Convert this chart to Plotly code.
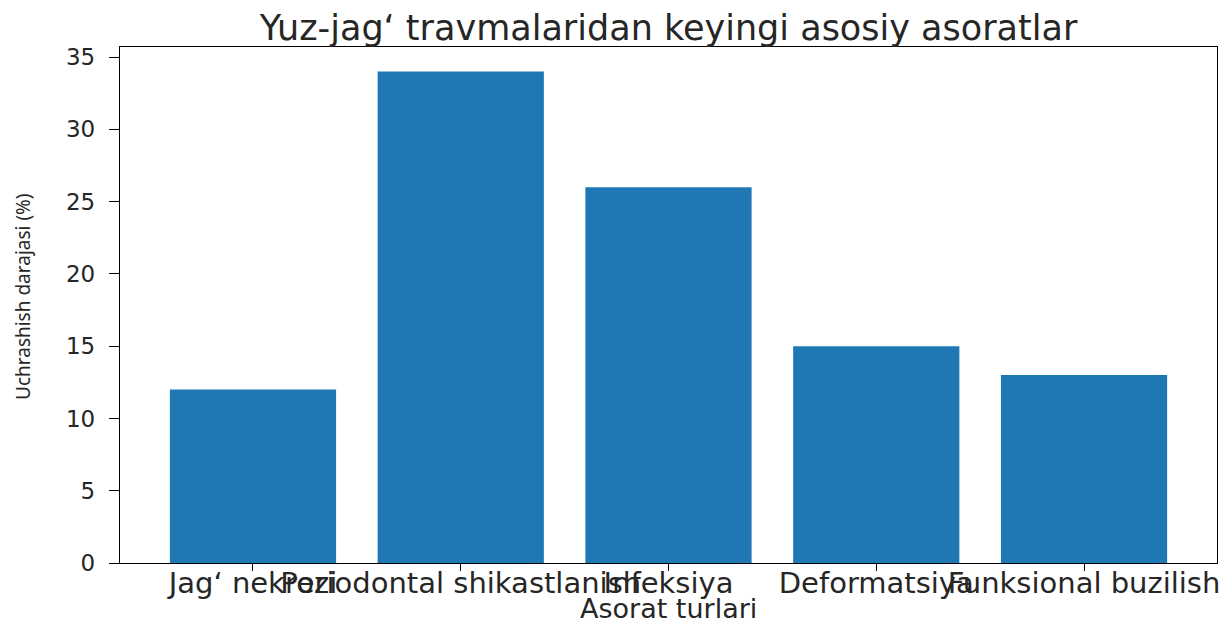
import plotly.graph_objects as go

categories = ["Jag‘ nekrozi", "Periodontal shikastlanish", "Infeksiya", "Deformatsiya", "Funksional buzilish"]
values = [12, 34, 26, 15, 13]
y_ticks = [0, 5, 10, 15, 20, 25, 30, 35]

title_text = "Yuz-jag‘ travmalaridan keyingi asosiy asoratlar"
x_title = "Asorat turlari"
y_title = "Uchrashish darajasi (%)"

W, H = 1232, 621
L, R, T, B = 120, 1217, 47, 563  # plot area in pixels

fig = go.Figure(
    go.Bar(
        x=list(range(len(categories))),
        y=values,
        marker=dict(color="#1f77b4", line=dict(width=0)),
        width=0.8,
    )
)

axis_common = dict(
    showline=True, linecolor="black", linewidth=1.3, mirror=True,
    ticks="outside", tickwidth=1.3, tickcolor="black",
    showgrid=False, zeroline=False, automargin=False,
)

txt = "#262626"

fig.update_layout(
    width=W, height=H,
    paper_bgcolor="white", plot_bgcolor="white",
    margin=dict(l=L, r=W - R, t=T, b=H - B, autoexpand=False),
    showlegend=False,
    font=dict(family="DejaVu Sans", color=txt),
    title=dict(
        text=title_text, x=(L + R) / 2 / W, xanchor="center",
        y=1 - 28 / H, yanchor="middle", yref="container",
        font=dict(size=35, family="DejaVu Sans", color=txt),
    ),
    xaxis=dict(
        **axis_common,
        ticklen=7,
        ticklabelstandoff=-13,
        range=[-0.64, 4.64],
        tickmode="array",
        tickvals=list(range(len(categories))),
        ticktext=categories,
        tickangle=0,
        tickfont=dict(size=29, family="DejaVu Sans", color=txt),
    ),
    yaxis=dict(
        **axis_common,
        ticklen=10,
        ticklabelstandoff=9,
        range=[0, 35.7],
        tickmode="array",
        tickvals=y_ticks,
        ticktext=[str(v) for v in y_ticks],
        tickfont=dict(size=23, family="DejaVu Sans", color=txt),
    ),
    annotations=[
        dict(
            text=x_title, xref="paper", yref="paper",
            x=0.5, y=-(608 - B) / (B - T), xanchor="center", yanchor="middle",
            showarrow=False, font=dict(size=27, family="DejaVu Sans", color=txt),
        ),
        dict(
            text=y_title, xref="paper", yref="paper", textangle=-90,
            x=-(L - 23) / (R - L), y=(B - 297) / (B - T), xanchor="center", yanchor="middle",
            showarrow=False, font=dict(size=19, family="Noto Sans", color=txt),
        ),
    ],
)

fig.write_html("out.html", config={"displayModeBar": False},
               post_script="document.body.style.margin='0px';")
